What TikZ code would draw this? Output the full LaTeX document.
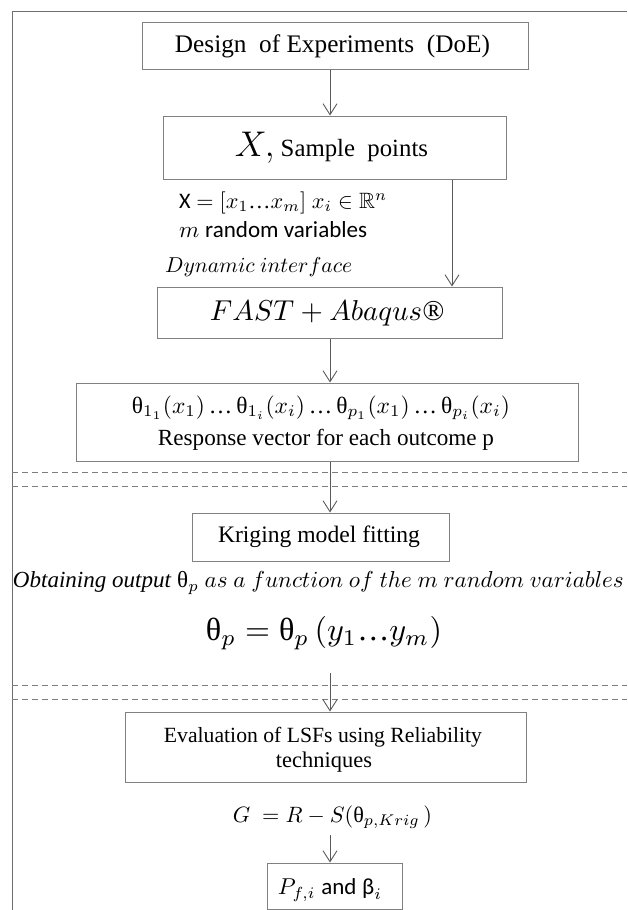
\documentclass[tikz,border=0pt]{standalone}
\usepackage{amssymb}
\usepackage{graphicx}
\usepackage{fontspec}
\setmainfont{Liberation Serif}
\newfontfamily\calib{Carlito}
\usetikzlibrary{arrows.meta}
\definecolor{boxgray}{RGB}{128,128,128}
\definecolor{arrgray}{RGB}{90,90,90}
\definecolor{framegray}{RGB}{110,110,110}
\definecolor{dashgray}{RGB}{125,125,125}
\newcommand{\thet}{\mbox{θ}}
\newcommand{\bet}{\mbox{\calib β}}
\newcommand{\eli}{\mbox{…}}
\newcommand{\fitw}[2]{\resizebox{#1}{!}{#2}}
\tikzset{
  box/.style={draw=boxgray, line width=1pt, inner sep=0pt},
  lbl/.style={inner sep=0pt},
  arr/.style={draw=arrgray, line width=0.9pt, -{Straight Barb[length=11pt,width=14pt,line width=0.9pt]}},
  framel/.style={draw=framegray, line width=1pt},
  sep/.style={draw=dashgray, line width=0.8pt, dash pattern=on 6pt off 4pt}
}
\begin{document}
\begin{tikzpicture}[x=1pt,y=-1pt]
\useasboundingbox (0,0) rectangle (627,910);
\draw[framel] (627,11) -- (12,11) -- (12,910);

% separators
\draw[sep] (12,472) -- (627,472);
\draw[sep] (12,486) -- (627,486);
\draw[sep] (12,685) -- (627,685);
\draw[sep] (12,699) -- (627,699);

% boxes
\node[box, minimum width=386pt, minimum height=47pt] (b1) at (335,45.5) {};
\node[lbl] (t1) at (332.5,46) {\fitw{315pt}{Design\ \ of Experiments\ \ (DoE)}};

\node[box, minimum width=343pt, minimum height=63pt] (b2) at (334.5,147.5) {};
\node[lbl] (t2) at (331.5,148) {\fitw{193pt}{\Large$X,$\normalsize\ Sample\ \ points}};

\node[lbl, anchor=west] (f2a) at (179,203) {\fitw{208pt}{{\calib X} $= [x_1 \eli x_m]\ x_i \in \mathbb{R}^n$}};
\node[lbl, anchor=west] (f2b) at (179,230) {\fitw{188pt}{$m$ {\calib random variables}}};
\node[lbl, anchor=west] (dyn) at (165,267) {\fitw{187pt}{$Dynamic\ interface$}};

\node[box, minimum width=345pt, minimum height=51pt] (b3) at (329.5,312.5) {};
\node[lbl] (t3) at (327,313) {\fitw{234pt}{$FAST + Abaqus$\textit{®}}};

\node[box, minimum width=502pt, minimum height=78pt] (b4) at (327,422) {};
\node[lbl] (t4a) at (321,408) {\fitw{378pt}{$\thet_{1_1}(x_1)\,\eli\,\thet_{1_i}(x_i)\,\eli\,\thet_{p_1}(x_1)\,\eli\,\thet_{p_i}(x_i)$}};
\node[lbl] (t4b) at (326,440) {\fitw{336pt}{Response vector for each outcome p}};

\node[box, minimum width=257pt, minimum height=48pt] (b5) at (320.5,537) {};
\node[lbl] (t5) at (319,537) {\fitw{202pt}{Kriging model fitting}};

\node[lbl] (obt) at (318.5,583) {\fitw{611pt}{\textit{Obtaining output} $\thet_p$ $as\ a\ function\ of\ the\ m\ random\ variables$}};
\node[lbl] (theq) at (324,633) {\fitw{236pt}{$\thet_p = \thet_p\,(y_1 \eli y_m)$}};

\node[box, minimum width=401pt, minimum height=70pt] (b6) at (325.5,747) {};
\node[lbl] (t6a) at (323,737) {\fitw{318pt}{Evaluation of LSFs using Reliability}};
\node[lbl] (t6b) at (324,762) {\fitw{96pt}{techniques}};

\node[lbl] (geq) at (332.5,817) {\fitw{199pt}{$G\ = R - S(\thet_{p,Krig}\,)$}};

\node[box, minimum width=135pt, minimum height=46pt] (b7) at (335,886) {};
\node[lbl] (t7) at (330,890) {\fitw{104pt}{$P_{f,i}$ {\calib and} $\bet_i$}};

% connectors
\coordinate (ax) at (330,0);
\coordinate (bx) at (452,0);
\coordinate (s6) at (330,673);
\coordinate (s7) at (330,835);
\draw[arr] (b1.south -| ax) -- (b2.north -| ax);
\draw[arr] (b2.south -| bx) -- (b3.north -| bx);
\draw[arr] (b3.south -| ax) -- (b4.north -| ax);
\draw[arr] (b4.south -| ax) -- (b5.north -| ax);
\draw[arr] (s6) -- (b6.north -| ax);
\draw[arr] (s7) -- (b7.north -| ax);
\end{tikzpicture}
\end{document}
